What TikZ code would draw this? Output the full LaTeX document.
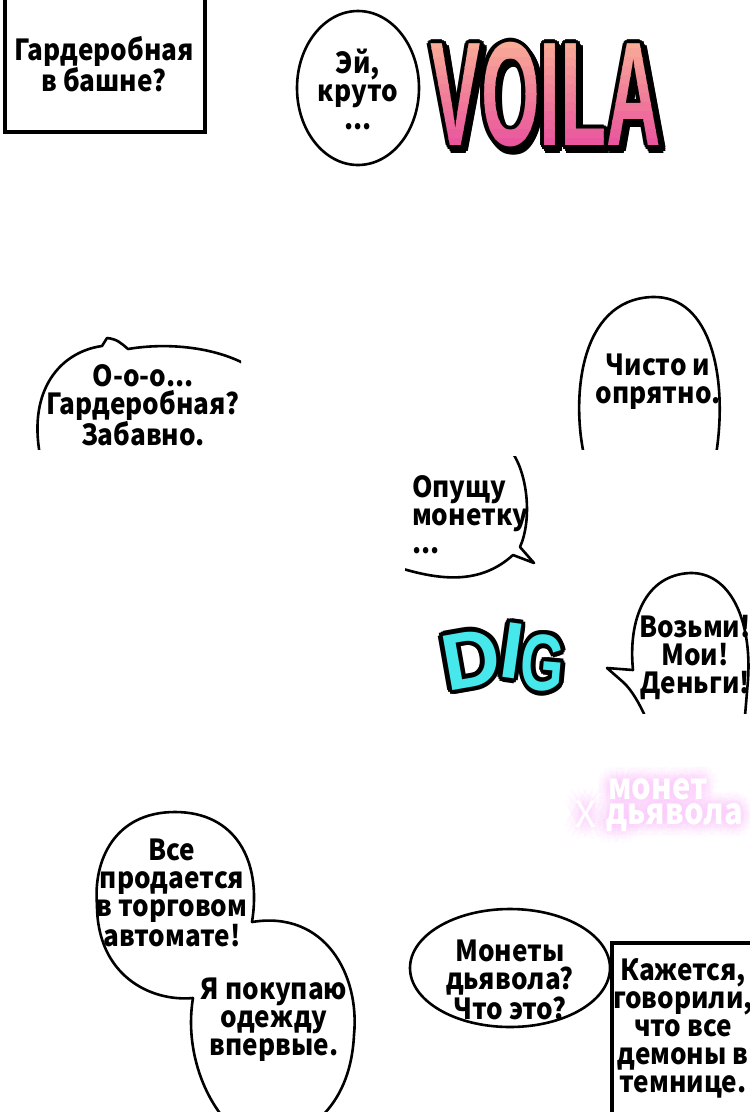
\documentclass[tikz,border=0pt]{standalone}
\usepackage{fontspec}
\setmainfont{Noto Sans}
\newfontfamily\cjkfont{Noto Sans CJK SC}
\newfontfamily\heavyfont{Liberation Sans}
\definecolor{vtop}{RGB}{250,178,150}
\definecolor{vbot}{RGB}{232,78,158}
\definecolor{digcyan}{RGB}{70,232,236}
\definecolor{glowpink}{RGB}{250,195,250}
\newcommand{\voilatext}{\heavyfont\bfseries\fontsize{148}{148}\selectfont\scalebox{0.51}[1]{VOILA}}
\begin{document}
\begin{tikzpicture}[x=1pt,y=-1pt,
  bub/.style={line width=2.6pt, line join=round, line cap=round},
  frame/.style={line width=4.2pt},
  txt/.style={font=\cjkfont\bfseries\fontsize{29}{28}\selectfont, align=center, inner sep=0pt, xscale=0.9},
  digl/.style={inner sep=0pt, font=\heavyfont\bfseries\fontsize{80}{80}\selectfont},
  glow/.style={inner sep=0pt, font=\cjkfont\bfseries\fontsize{36}{36}\selectfont, xscale=0.86},
  glowx/.style={inner sep=0pt, font=\cjkfont\fontsize{36}{36}\selectfont}]
\useasboundingbox (0,0) rectangle (750,1112);
\begin{scope}
\clip (0,0) rectangle (750,1112);

% top-left caption box
\draw[frame] (5,-10) rectangle (205,132);
\node[txt] (t1) at (104,64) {Гардеробная\\в башне?};

% bubble "Эй, круто ..."
\draw[bub] (358,88) ellipse [x radius=61, y radius=77];
\node[txt] (t2) at (358,89) {Эй,\\круто\\...};

% VOILA: shadow, outline, then stepped gradient fill
\foreach \a in {0,30,...,330}{
  \path (549,99) ++(\a:4) node[inner sep=0pt, text=black] (vs\a) {\voilatext};
  \path (546,95) ++(\a:4) node[inner sep=0pt, text=black] (vo\a) {\voilatext};
}
\foreach \i in {0,...,13}{
  \pgfmathtruncatemacro\pct{100*\i/13}
  \colorlet{vstrip}{vbot!\pct!vtop}
  \begin{scope}
    \clip (400,{30+9*\i}) rectangle (700,{40+9*\i});
    \node[inner sep=0pt, text=vstrip] (vp\i) at (546,95) {\voilatext};
  \end{scope}
}

% bubble "О-о-о..."
\begin{scope}
\clip (0,330) rectangle (241,449);
\draw[bub] (40,455) .. controls (28,390) and (60,352) .. (102,346)
  -- (107,338) .. controls (117,339) and (121,343) .. (128,349)
  .. controls (170,342) and (215,348) .. (245,364);
\end{scope}
\node[txt] (t3) at (143,405) {О-о-о...\\Гардеробная?\\Забавно.};

% bubble "Чисто и опрятно."
\begin{scope}
\clip (560,280) rectangle (750,449);
\draw[bub] (584,455) .. controls (572,400) and (578,300) .. (652,297)
  .. controls (712,295) and (728,380) .. (716,455);
\end{scope}
\node[txt] (t4) at (658,382) {Чисто и\\опрятно.};

% bubble "Опущу монетку ..."
\begin{scope}
\clip (405,456) rectangle (560,600);
\draw[bub] (512,452) .. controls (528,475) and (532,520) .. (520,547)
  -- (534,563) -- (513,555) .. controls (480,585) and (440,580) .. (400,568);
\end{scope}
\node[txt, anchor=west, align=left] (t5) at (412,515) {Опущу\\монетку\\...};

% DIG
\foreach \a in {0,30,...,330}{
  \path (471,659) ++(\a:4.5) node[digl, rotate=10, text=black] (dd\a) {D};
  \path (512,651) ++(\a:4.5) node[digl, rotate=-8, text=black] (di\a) {I};
  \path (543,663) ++(\a:4.5) node[digl, rotate=-5, text=black] (dg\a) {\scalebox{0.7}[1]{G}};
}
\node[digl, rotate=10, text=digcyan] (digD) at (471,659) {D};
\node[digl, rotate=-8, text=digcyan] (digI) at (512,651) {I};
\node[digl, rotate=-5, text=digcyan] (digG) at (543,663) {\scalebox{0.7}[1]{G}};

% bubble "Возьми! Мои! Деньги!"
\begin{scope}
\clip (590,560) rectangle (750,713);
\draw[bub] (645,716) .. controls (640,705) and (632,690) .. (623,682)
  -- (607,668) -- (633,670) .. controls (628,620) and (645,575) .. (690,573)
  .. controls (730,572) and (752,620) .. (748,680) -- (745,716);
\end{scope}
\node[txt] (t6) at (695,657) {Возьми!\\Мои!\\Деньги!};

% glowing "X монет дьявола"
\foreach \r in {4,8,12}{
  \foreach \a in {0,30,...,330}{
    \path (658,789) ++(\a:\r) node[glow, text=glowpink, opacity=0.08] (gm\r-\a) {монет};
    \path (675,818) ++(\a:\r) node[glow, text=glowpink, opacity=0.08] (gd\r-\a) {дьявола};
    \path (586,814) ++(\a:\r) node[glowx, text=glowpink, opacity=0.08] (gx\r-\a) {X};
  }
}
\node[glow, text=white] (mon) at (658,789) {монет};
\node[glow, text=white] (dya) at (675,818) {дьявола};
\node[glowx, text=white] (xx) at (586,814) {X};

% twin bubble
\draw[bub] (252,922) .. controls (262,860) and (235,812) .. (175,812)
  .. controls (115,812) and (93,860) .. (97,905)
  .. controls (97,975) and (150,1002) .. (193,998)
  .. controls (186,1040) and (198,1085) .. (222,1116);
\draw[bub] (252,922) .. controls (325,910) and (360,975) .. (354,1035)
  .. controls (352,1075) and (338,1100) .. (322,1116);
\node[txt] (t7) at (172,893) {Все\\продается\\в торговом\\автомате!};
\node[txt] (t8) at (274,1020) {Я покупаю\\одежду\\впервые.};

% bubble "Монеты дьявола? Что это?"
\draw[bub] (510,968) ellipse [x radius=100, y radius=59];
\node[txt] (t9) at (510,980) {Монеты\\дьявола?\\Что это?};

% bottom-right caption box
\draw[frame] (612,943) rectangle (762,1125);
\node[txt] (t10) at (683,1028) {Кажется,\\говорили,\\что все\\демоны в\\темнице.};
\end{scope}
\end{tikzpicture}
\end{document}
